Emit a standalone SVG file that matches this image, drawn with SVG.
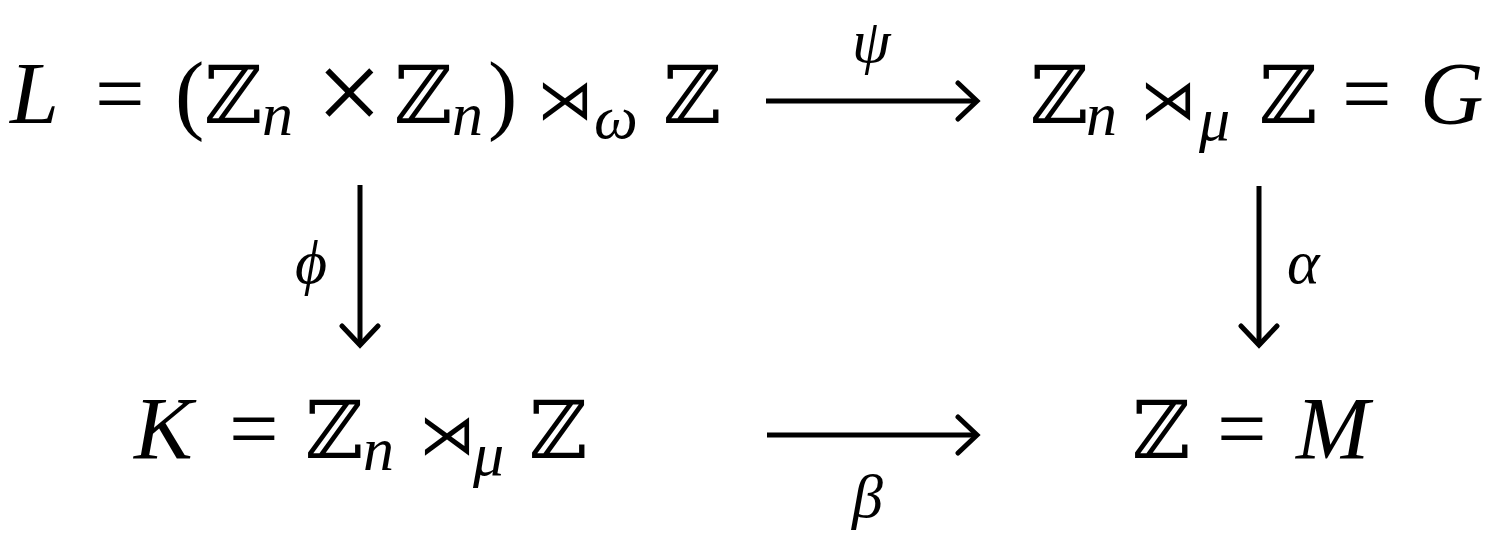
<svg xmlns="http://www.w3.org/2000/svg" width="1503" height="551" viewBox="0 0 1503 551">
<style>
.m{font-family:"Liberation Serif","DejaVu Serif","Noto Sans",serif;font-size:88px;fill:#000}
.i{font-style:italic}
.s{font-size:62px}
.bb{font-family:"DejaVu Serif","DejaVu Sans",serif;font-size:80px}
.op{font-family:"DejaVu Sans","DejaVu Serif",sans-serif;font-size:56px}
.x{font-size:118px}
.lbl{font-family:"Liberation Serif","DejaVu Serif",serif;font-size:62px;font-style:italic;fill:#000}
.arr{stroke:#000;stroke-width:5;fill:none;marker-end:url(#ah)}
</style>
<defs>
<marker id="ah" markerUnits="userSpaceOnUse" markerWidth="30" markerHeight="44" refX="22" refY="22" orient="auto" viewBox="0 0 30 44">
<path d="M3 4 L22 22 L3 40" fill="none" stroke="#000" stroke-width="5" stroke-linecap="round" stroke-linejoin="miter"/>
</marker>
</defs>
<rect width="1503" height="551" fill="#fff"/>
<g id="node-L">
<text class="m" y="123"><tspan class="i" x="10" y="123">L</tspan><tspan x="95" y="123">=</tspan><tspan x="175" y="123">(</tspan><tspan class="bb" x="204" y="123">ℤ</tspan><tspan class="i s" x="262" y="135">n</tspan><tspan class="x" x="316" y="132">×</tspan><tspan class="bb" x="394" y="123">ℤ</tspan><tspan class="i s" x="452" y="135">n</tspan><tspan x="488" y="123">)</tspan><tspan class="op" x="537" y="119">⋊</tspan><tspan class="i s" x="594" y="138">ω</tspan><tspan class="bb" x="663" y="123">ℤ</tspan></text>
</g>
<g id="node-G">
<text class="m" y="123"><tspan class="bb" x="1030" y="123">ℤ</tspan><tspan class="i s" x="1086" y="135">n</tspan><tspan class="op" x="1140" y="119">⋊</tspan><tspan class="i s" x="1199" y="140">μ</tspan><tspan class="bb" x="1259" y="123">ℤ</tspan><tspan x="1342" y="123">=</tspan><tspan class="i" x="1420" y="123">G</tspan></text>
</g>
<g id="node-K">
<text class="m" y="458"><tspan class="i" x="134" y="458">K</tspan><tspan x="229" y="458">=</tspan><tspan class="bb" x="305" y="458">ℤ</tspan><tspan class="i s" x="363" y="470">n</tspan><tspan class="op" x="419" y="454">⋊</tspan><tspan class="i s" x="473" y="475">μ</tspan><tspan class="bb" x="529" y="458">ℤ</tspan></text>
</g>
<g id="node-M">
<text class="m" y="458"><tspan class="bb" x="1132" y="458">ℤ</tspan><tspan x="1217" y="458">=</tspan><tspan class="i" x="1296" y="458">M</tspan></text>
</g>
<g id="connectors">
<line class="arr" x1="766" y1="101" x2="977" y2="101"/>
<line class="arr" x1="767" y1="435" x2="977" y2="435"/>
<line class="arr" x1="360" y1="185" x2="360" y2="345"/>
<line class="arr" x1="1259" y1="186" x2="1259" y2="345"/>
<text class="lbl" x="852" y="62">ψ</text>
<text class="lbl" x="295" y="283">ϕ</text>
<text class="lbl" x="1287" y="283">α</text>
<text class="lbl" x="852" y="517">β</text>
</g>
</svg>
